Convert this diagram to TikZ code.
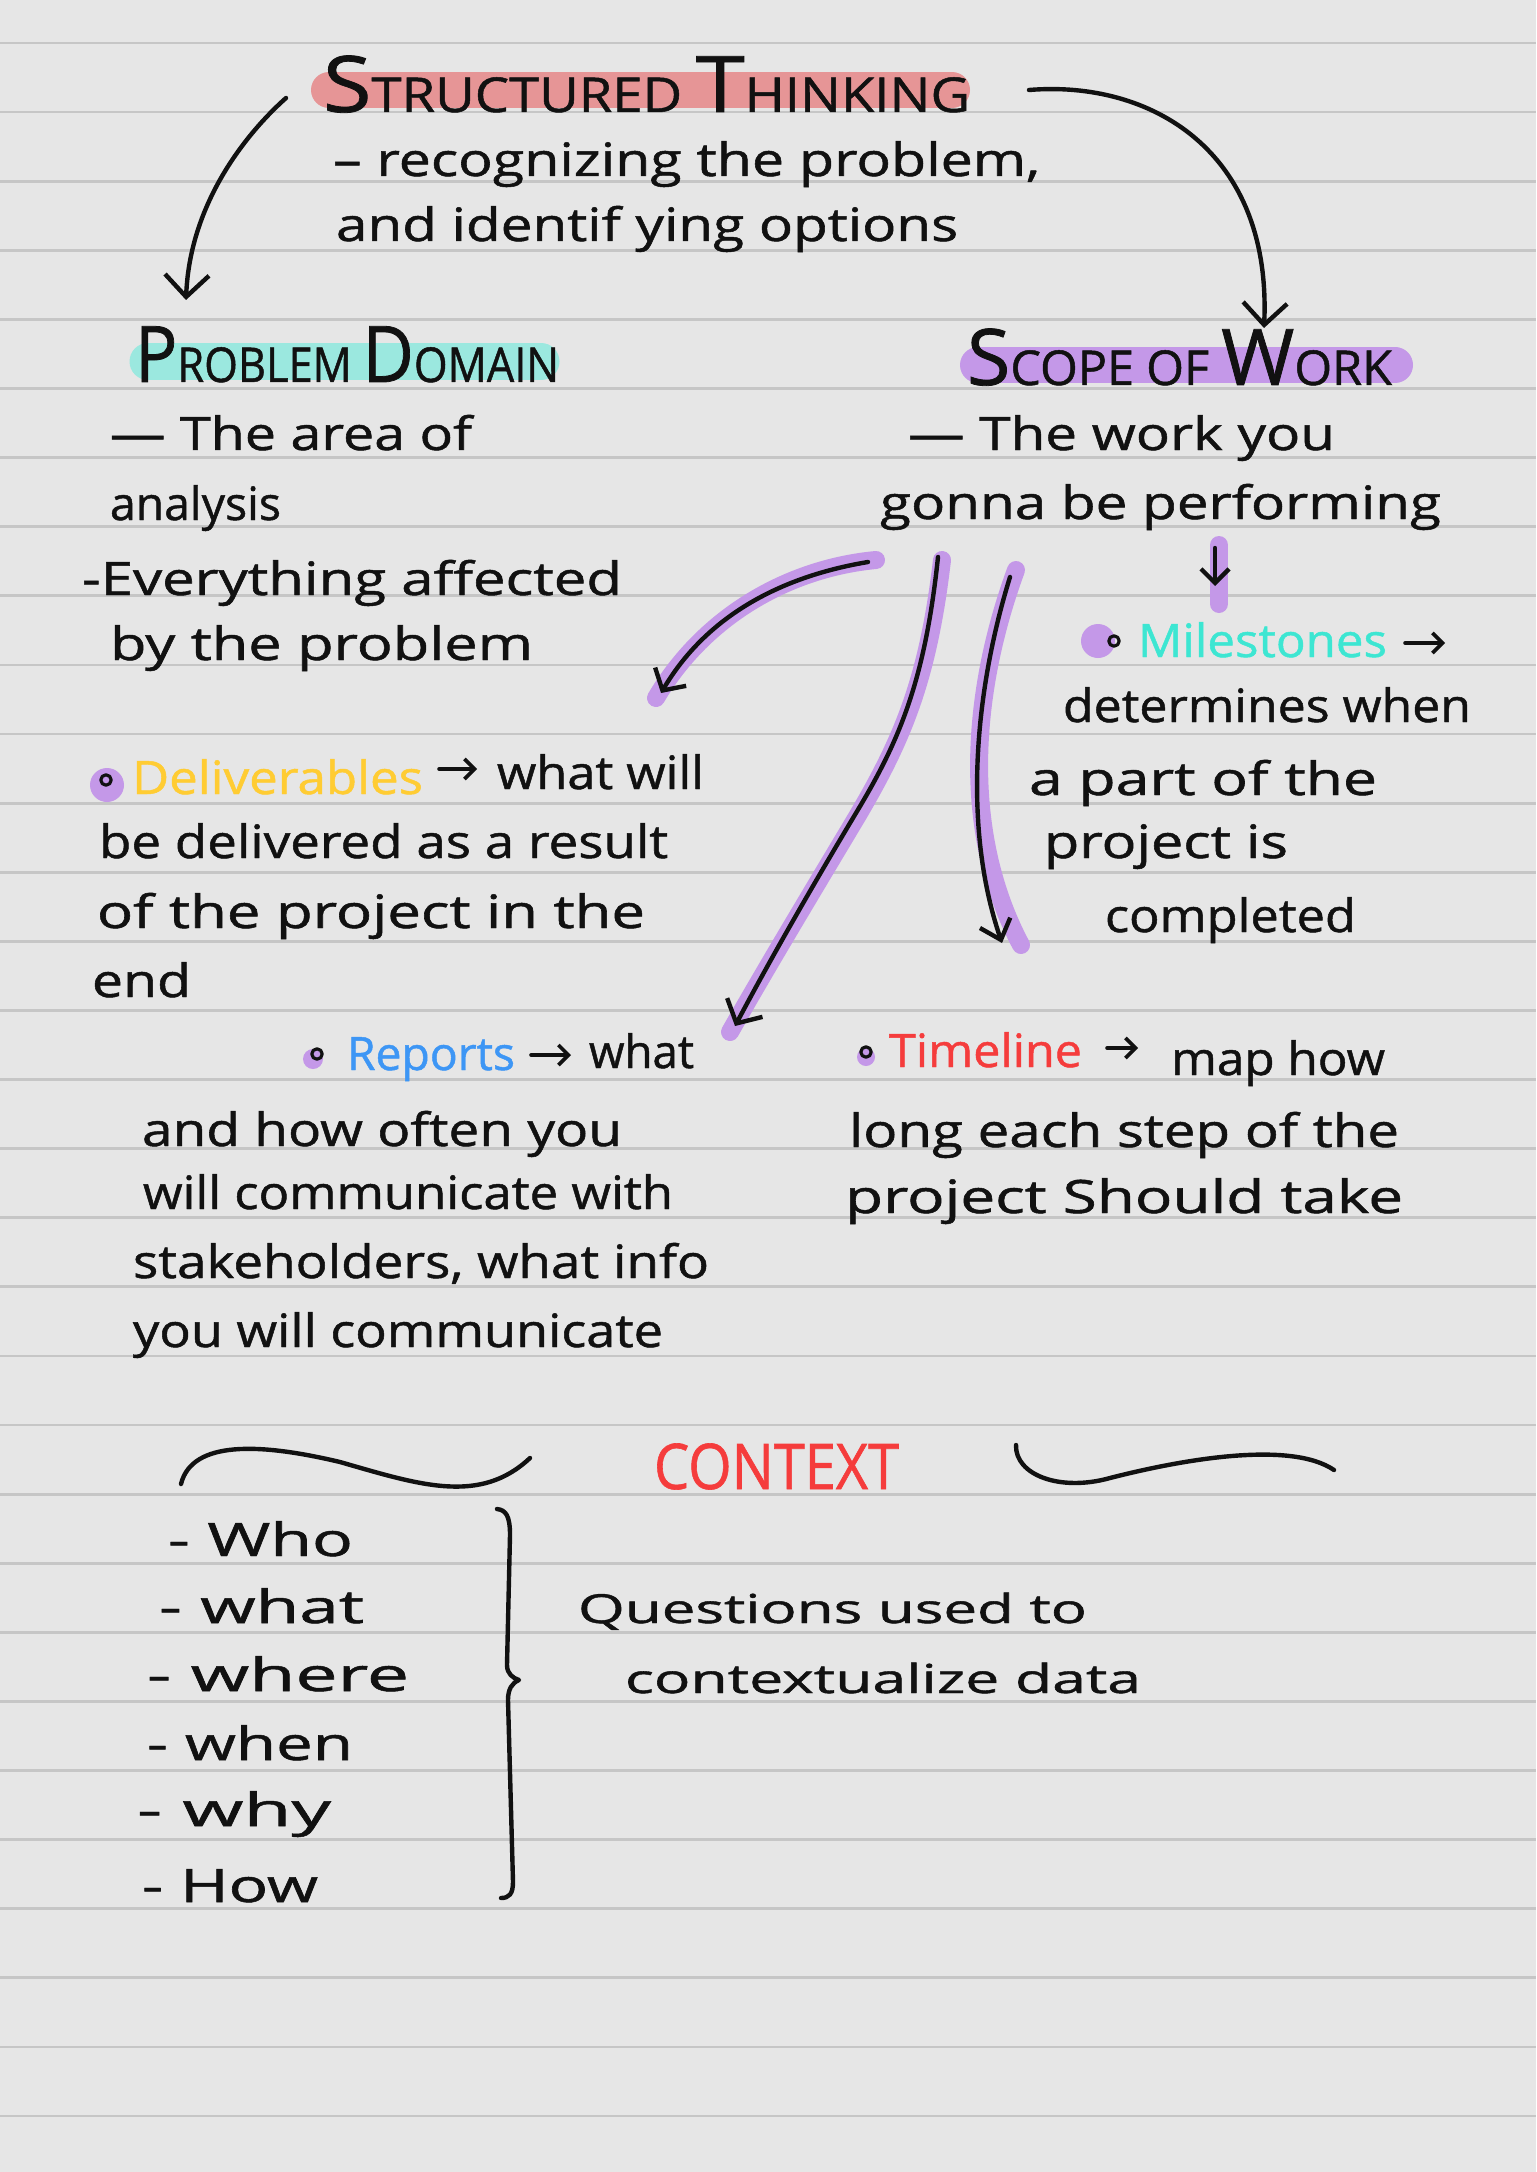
\documentclass[tikz,border=0pt]{standalone}
\usepackage{fontspec}
\setmainfont{Open Sans}[FakeBold=1]
\usepackage{graphicx}
\usetikzlibrary{arrows.meta}
\definecolor{paper}{HTML}{E6E6E6}
\definecolor{rule}{HTML}{C6C6C6}
\definecolor{ink}{HTML}{111111}
\definecolor{hlpink}{HTML}{E69596}
\definecolor{hlcyan}{HTML}{9BE8DF}
\definecolor{hlpurple}{HTML}{C498E8}
\definecolor{txcyan}{HTML}{3DE6D2}
\definecolor{txyellow}{HTML}{FFCC33}
\definecolor{txblue}{HTML}{3D96F5}
\definecolor{txred}{HTML}{F53C3C}
\newcommand\bodyfont{\fontsize{23}{27}\selectfont}
\newcommand\smallbody{\fontsize{20}{24}\selectfont}
\newcommand\BigL[1]{{\fontsize{39}{40}\selectfont #1}}
\newcommand\SmallL[1]{{\fontsize{24}{26}\selectfont #1}}
\newcommand\hwline[2]{\resizebox{#1pt}{\height}{#2}}
\begin{document}
\begin{tikzpicture}[x=0.5pt,y=-0.5pt,
  hw/.style={anchor=base west, inner sep=0pt, outer sep=0pt, font=\bodyfont, text=ink},
  pen/.style={draw=ink, line width=2.2pt, line cap=round, line join=round},
  bigarrow/.style={pen, -{Straight Barb[length=11pt,width=22pt]}},
  smallarrow/.style={pen, line width=1.8pt, -{Straight Barb[length=5pt,width=10pt]}},
  hlstroke/.style={draw=hlpurple, line width=9pt, line cap=round},
  ruled/.style={draw=rule, line width=1.4pt}]
\useasboundingbox (0,0) rectangle (1536,2172);
\fill[paper] (0,0) rectangle (1536,2172);
\foreach \k in {0,...,30} \draw[ruled] (0,{43+69.1*\k}) -- (1536,{43+69.1*\k});

% highlights
\draw[hlpink, line width=18pt, line cap=round] (329,90) -- (952,90);
\draw[hlcyan, line width=18.5pt, line cap=round] (148,361.5) -- (541,361.5);
\draw[hlpurple, line width=18pt, line cap=round] (978,365) -- (1395,365);

% title
\node[hw] (title) at (323,112) {\resizebox{323.5pt}{\height}{\BigL{S}\SmallL{TRUCTURED} \BigL{T}\SmallL{HINKING}}};
\node[hw] (sub1) at (333,176) {\hwline{353.5}{– recognizing the problem,}};
\node[hw] (sub2) at (336,241) {\hwline{311}{and identif ying options}};

% problem domain
\node[hw] (pd) at (135,382) {\resizebox{212pt}{\height}{\BigL{P}\SmallL{ROBLEM} \BigL{D}\SmallL{OMAIN}}};
\node[hw] (pd1) at (110,450) {\hwline{181}{— The area of}};
\node[hw] (pd2) at (110,520) {\hwline{85.5}{analysis}};
\node[hw] (pd3) at (82,595) {\hwline{270}{-Everything affected}};
\node[hw] (pd4) at (110,660) {\hwline{211.5}{by the problem}};

% scope of work
\node[hw] (sw) at (967,385) {\resizebox{212.5pt}{\height}{\BigL{S}\SmallL{COPE} \SmallL{OF} \BigL{W}\SmallL{ORK}}};
\node[hw] (sw1) at (908,450) {\hwline{213.5}{— The work you}};
\node[hw] (sw2) at (880,519) {\hwline{280.5}{gonna be performing}};

% milestones
\fill[hlpurple] (1098,641) circle[radius=8.5pt];
\draw[pen, line width=1.6pt] (1114,641) circle[radius=2.6pt];
\node[hw, text=txcyan] (ms) at (1138,657) {\hwline{124.5}{Milestones}};
\node[hw] (ms1) at (1063,722) {\hwline{204}{determines when}};
\node[hw] (ms2) at (1029,795) {\hwline{174}{a part of the}};
\node[hw] (ms3) at (1044,858) {\hwline{122}{project is}};
\node[hw] (ms4) at (1105,932) {\hwline{125.5}{completed}};

% deliverables
\fill[hlpurple] (107,785) circle[radius=8.5pt];
\draw[pen, line width=1.6pt] (106,780) circle[radius=2.6pt];
\node[hw, text=txyellow] (dl) at (132,794) {\hwline{145.5}{Deliverables}};
\node[hw] (dl0) at (497,789) {\hwline{103.5}{what will}};
\node[hw] (dl1) at (99,858) {\hwline{284.5}{be delivered as a result}};
\node[hw] (dl2) at (97,928) {\hwline{274}{of the project in the}};
\node[hw] (dl3) at (92,997) {\hwline{49.5}{end}};

% reports
\fill[hlpurple] (313,1059) circle[radius=5pt];
\draw[pen, line width=1.6pt] (317,1054) circle[radius=2.6pt];
\node[hw, text=txblue] (rp) at (347,1070) {\hwline{84}{Reports}};
\node[hw] (rp0) at (589,1068) {\hwline{52.5}{what}};
\node[hw] (rp1) at (142,1146) {\hwline{240}{and how often you}};
\node[hw] (rp2) at (143,1209) {\hwline{265}{will communicate with}};
\node[hw] (rp3) at (133,1278) {\hwline{288}{stakeholders, what info}};
\node[hw] (rp4) at (133,1347) {\hwline{265}{you will communicate}};

% timeline
\fill[hlpurple] (866,1057) circle[radius=4.5pt];
\draw[pen, line width=1.6pt] (866,1052) circle[radius=2.6pt];
\node[hw, text=txred] (tl) at (889,1067) {\hwline{96.5}{Timeline}};
\node[hw] (tl0) at (1171,1075) {\hwline{107}{map how}};
\node[hw] (tl1) at (849,1147) {\hwline{275}{long each step of the}};
\node[hw] (tl2) at (845,1213) {\hwline{279}{project Should take}};

% context
\node[hw, text=txred, font=\fontsize{31.5}{34}\selectfont] (ctx) at (654,1489) {\hwline{122.5}{CONTEXT}};
\node[hw] (q1) at (168,1556) {\hwline{92.5}{- Who}};
\node[hw] (q2) at (159,1623) {\hwline{102.5}{- what}};
\node[hw] (q3) at (147,1691) {\hwline{131}{- where}};
\node[hw] (q4) at (147,1760) {\hwline{103}{- when}};
\node[hw] (q5) at (137,1826) {\hwline{97}{- why}};
\node[hw] (q6) at (142,1902) {\hwline{88}{- How}};
\node[hw, font=\smallbody] (qa) at (578,1623) {\hwline{254.5}{Questions used to}};
\node[hw, font=\smallbody] (qb) at (625,1693) {\hwline{258}{contextualize data}};

% coordinates for connectors
\coordinate (a1s) at (286,98);   \coordinate (a1e) at (186,300);
\coordinate (a2s) at (1029,90);  \coordinate (a2e) at (1264,328);
\coordinate (aAs) at (868,562);  \coordinate (aAe) at (661,693);
\coordinate (aBs) at (938,557);  \coordinate (aBe) at (735,1026);
\coordinate (aCs) at (1010,577); \coordinate (aCe) at (1002,943);
\coordinate (pfs) at (1215,548); \coordinate (pfe) at (1215,586);
\coordinate (mse) at (1445,643);

% title arrows
\draw[bigarrow] (a1s) .. controls (250,130) and (190,200) .. (a1e);
\draw[bigarrow] (a2s) .. controls (1150,80) and (1272,150) .. (a2e);

% purple-backed arrows
\draw[hlstroke] (876,560) .. controls (790,568) and (705,615) .. (656,698);
\draw[bigarrow, -{Straight Barb[length=8pt,width=18pt]}] (aAs) .. controls (790,575) and (710,610) .. (aAe);

\draw[hlstroke] (942,560) .. controls (928,680) and (902,740) .. (858,815) .. controls (812,892) and (768,965) .. (730,1032);
\draw[bigarrow, -{Straight Barb[length=9pt,width=20pt]}] (aBs) .. controls (925,680) and (900,740) .. (856,813) .. controls (810,890) and (770,960) .. (aBe);

\draw[hlstroke] (1016,570) .. controls (972,690) and (960,830) .. (1021,945);
\draw[bigarrow, -{Straight Barb[length=9pt,width=16pt]}] (aCs) .. controls (978,680) and (960,820) .. (aCe);

\draw[hlpurple, line width=9pt, line cap=round] (1219,545) -- (1219,604);
\draw[pen, -{Straight Barb[length=7pt,width=14pt]}] (pfs) -- (pfe);

% small arrows
\draw[smallarrow] ([shift={(16,-25)}]dl.base east) -- ([shift={(-20,-20)}]dl0.base west);
\draw[smallarrow] ([shift={(16,-15)}]rp.base east) -- ([shift={(-18,-13)}]rp0.base west);
\draw[smallarrow] ([shift={(25,-19)}]tl.base east) -- ([shift={(-33,-27)}]tl0.base west);
\draw[smallarrow] ([shift={(18,-14)}]ms.base east) -- (mse);

% context swashes
\draw[pen] (181,1484) .. controls (192,1440) and (260,1443) .. (340,1462) .. controls (420,1485) and (480,1505) .. (530,1458);
\draw[pen] (1016,1445) .. controls (1015,1475) and (1060,1492) .. (1110,1478) .. controls (1180,1460) and (1290,1440) .. (1334,1470);

% brace
\draw[pen] (497,1509) .. controls (506,1510) and (510,1516) .. (510,1535) -- (507,1665) .. controls (507,1674) and (513,1678) .. (519,1680) .. controls (512,1683) and (508,1689) .. (508,1700) -- (513,1882) .. controls (513,1894) and (509,1898) .. (501,1898);
\end{tikzpicture}
\end{document}
